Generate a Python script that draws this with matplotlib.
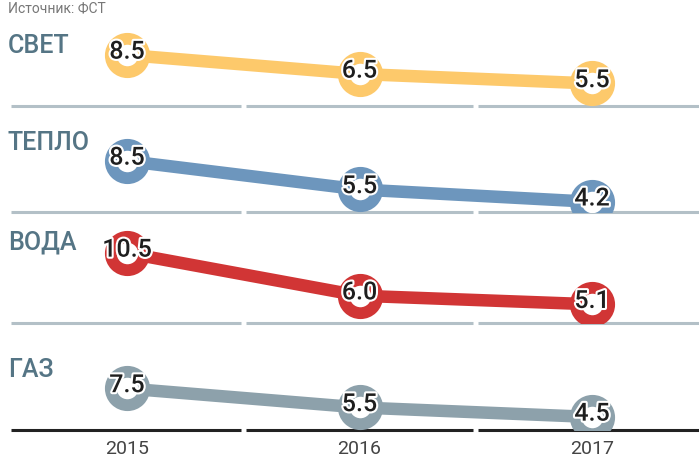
import matplotlib
matplotlib.use("Agg")
import matplotlib.pyplot as plt
import matplotlib.patheffects as pe

years = ["2015", "2016", "2017"]
names = ["СВЕТ", "ТЕПЛО", "ВОДА", "ГАЗ"]
svet = [8.5, 6.5, 5.5]
teplo = [8.5, 5.5, 4.2]
voda = [10.5, 6.0, 5.1]
gaz = [7.5, 5.5, 4.5]
colors = ["#fdc96b", "#6d96bd", "#d13535", "#8da1ab"]

W, H = 699, 459
fig = plt.figure(figsize = (W / 100, H / 100), dpi = 100)
plt.rcParams["font.family"] = ["Roboto", "DejaVu Sans"]

# bottom line of each panel (pixels from top) and label centre
sep_px = [106, 212, 323, 430]
lab_px = [46, 143, 242, 370]
series = [svet, teplo, voda, gaz]

x = list(range(len(years)))
left_px = 10.75
for i in range(4):
    bottom = (H - sep_px[i]) / H
    ax = fig.add_axes([left_px / W, bottom, (W - left_px) / W, 106 / H])
    ax.patch.set_alpha(0)
    ax.set_xlim(-0.5, 2.46)
    ax.set_ylim(3.13, 3.13 + 106 / 9.5)
    for s in ax.spines.values():
        s.set_visible(False)
    ax.set_yticks([])
    sep_col = "#222222" if i == 3 else "#b3c0c7"
    for a, b in [(-0.5, 0.49), (0.51, 1.49), (1.51, 2.46)]:
        ax.plot([a, b], [3.13, 3.13], color = sep_col, lw = 2.2, solid_capstyle = "butt", zorder = 1, clip_on = False)
    ax.plot(x, series[i], color = colors[i], lw = 9, zorder = 2, solid_capstyle = "butt")
    ax.plot(x, series[i], "o", ms = 24, mew = 8.5, mfc = "white", mec = colors[i], zorder = 3)
    for xi, v in zip(x, series[i]):
        ax.text(xi, v + 0.35, "%.1f" % v, ha = "center", va = "center", fontsize = 18, fontweight = "medium",
                color = "#1e1e1e", zorder = 4, clip_on = False,
                path_effects = [pe.withStroke(linewidth = 3, foreground = "white")])
    fig.text(8 / W, 1 - lab_px[i] / H, names[i], ha = "left", va = "center", fontsize = 18,
             color = "#557585", fontweight = "medium")
    if i == 3:
        ax.set_xticks(x)
        ax.set_xticklabels(years, fontsize = 14, color = "#444444")
        ax.tick_params(axis = "x", length = 0, pad = 7)
    else:
        ax.set_xticks([])

fig.text(8 / W, 1 - 1 / H, "Источник: ФСТ", ha = "left", va = "top", fontsize = 10, color = "#777777")

fig.savefig("out.png", dpi = 100)
